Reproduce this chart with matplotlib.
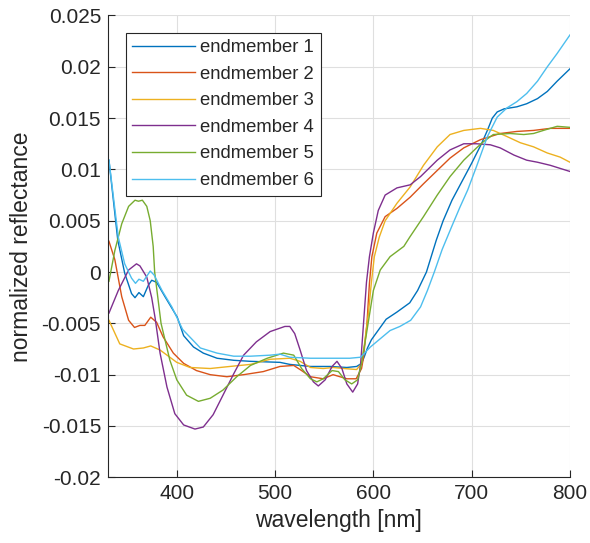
import numpy as np
import matplotlib
matplotlib.use("Agg")
import matplotlib.pyplot as plt

plt.rcParams['font.family'] = ['Liberation Sans', 'DejaVu Sans']

# endmember spectra (wavelength nm, normalized reflectance)
wl_1 = [331, 340, 347, 354, 357.5, 361.5, 366, 371, 374.5, 379.5, 388, 400.5, 407, 417, 427, 441,
        458, 475, 505, 515, 536, 556, 573, 583, 588, 591, 594, 598, 604, 613, 624, 637, 645, 654,
        664, 671, 680, 690, 700, 710, 716, 721, 726, 733, 746, 756, 767, 777, 787, 800]
em_1 = [0.0109, 0.0031, -0.0001, -0.0021, -0.0025, -0.0020, -0.0024, -0.0013, -0.0008, -0.0010,
        -0.0024, -0.0044, -0.0062, -0.0073, -0.0079, -0.0084, -0.0086, -0.0087, -0.0088, -0.0090,
        -0.0092, -0.0092, -0.0093, -0.0092, -0.0089, -0.0082, -0.0074, -0.0066, -0.0058, -0.0046,
        -0.0039, -0.0030, -0.0018, 0.0000, 0.0031, 0.0050, 0.0070, 0.0088, 0.0106, 0.0125, 0.0138,
        0.0150, 0.0156, 0.0159, 0.0161, 0.0164, 0.0169, 0.0176, 0.0186, 0.0198]

wl_2 = [331, 337, 344, 351, 357, 362.5, 367.5, 373.5, 379.5, 386, 396.5, 407, 420, 434, 451, 468,
        488, 505, 519, 527, 536, 549, 559, 573, 582.5, 588, 590, 593.5, 596, 598.5, 603.5, 612,
        624, 637.5, 651, 665, 678, 692, 709, 729, 746, 763, 780, 800]
em_2 = [0.0030, 0.0012, -0.0024, -0.0047, -0.0054, -0.0052, -0.0052, -0.0044, -0.0049, -0.0063,
        -0.0079, -0.0089, -0.0096, -0.0100, -0.0102, -0.0100, -0.0097, -0.0092, -0.0091, -0.0096,
        -0.0102, -0.0104, -0.0100, -0.0104, -0.0104, -0.0094, -0.0083, -0.0050, -0.0011, 0.0015,
        0.0038, 0.0054, 0.0062, 0.0073, 0.0086, 0.0099, 0.0111, 0.0121, 0.0129, 0.0135, 0.0137,
        0.0138, 0.0140, 0.0140]

wl_3 = [331, 342, 356, 366, 373.5, 383, 400, 413.5, 434, 454, 475, 495, 515, 525.5, 536, 549,
        559, 570, 583, 588, 591, 595, 598, 601, 606, 612, 624, 637.5, 651, 665, 678, 692, 709,
        722, 736, 749.5, 763, 777, 790, 800]
em_3 = [-0.0047, -0.0070, -0.0075, -0.0074, -0.0072, -0.0076, -0.0088, -0.0093, -0.0094, -0.0092,
        -0.0090, -0.0085, -0.0084, -0.0087, -0.0093, -0.0094, -0.0093, -0.0094, -0.0095, -0.0089,
        -0.0070, -0.0040, -0.0010, 0.0015, 0.0034, 0.0050, 0.0067, 0.0083, 0.0104, 0.0122, 0.0134,
        0.0138, 0.0140, 0.0138, 0.0132, 0.0126, 0.0122, 0.0116, 0.0112, 0.0107]

wl_4 = [331, 340.5, 351, 359, 362.5, 369.5, 374.5, 378, 383, 390, 398, 407, 418.5, 427, 437, 447,
        458, 468, 481, 495, 510, 515, 520, 525.5, 532, 539, 544, 551, 558, 563, 568, 573, 579, 584,
        587, 590, 593, 596, 600, 605, 612, 624, 637.5, 648, 665, 678, 692, 705, 719, 729, 743, 756,
        767, 780, 800]
em_4 = [-0.0040, -0.0018, 0.0002, 0.0008, 0.0006, -0.0005, -0.0025, -0.0045, -0.0079, -0.0112,
        -0.0138, -0.0149, -0.0153, -0.0151, -0.0139, -0.0120, -0.0099, -0.0081, -0.0068, -0.0058,
        -0.0053, -0.0053, -0.0060, -0.0076, -0.0096, -0.0107, -0.0111, -0.0105, -0.0092, -0.0087,
        -0.0094, -0.0109, -0.0117, -0.0109, -0.0090, -0.0050, -0.0010, 0.0015, 0.0038, 0.0060,
        0.0075, 0.0082, 0.0085, 0.0093, 0.0109, 0.0119, 0.0125, 0.0125, 0.0124, 0.0121, 0.0114,
        0.0109, 0.0107, 0.0104, 0.0098]

wl_5 = [331, 337, 344, 351, 357.5, 361, 365, 369.5, 373, 376, 377.5, 381, 384, 393, 400, 410, 422,
        434, 447, 461, 475, 492, 508.5, 519, 527, 536, 542.5, 549, 558, 564.5, 571, 578, 584, 588,
        593, 596, 600, 607, 617, 631, 637, 651, 665, 678, 692, 705, 712, 722, 739, 753, 763, 773,
        787, 800]
em_5 = [-0.0009, 0.0021, 0.0047, 0.0064, 0.0070, 0.0069, 0.0070, 0.0064, 0.0050, 0.0025, 0.0000,
        -0.0027, -0.0050, -0.0086, -0.0105, -0.0120, -0.0126, -0.0123, -0.0115, -0.0102, -0.0091,
        -0.0084, -0.0079, -0.0081, -0.0094, -0.0104, -0.0107, -0.0104, -0.0096, -0.0097, -0.0105,
        -0.0109, -0.0105, -0.0089, -0.0060, -0.0042, -0.0018, 0.0002, 0.0015, 0.0025, 0.0034,
        0.0054, 0.0075, 0.0093, 0.0109, 0.0121, 0.0127, 0.0134, 0.0135, 0.0134, 0.0135, 0.0138,
        0.0142, 0.0141]

wl_6 = [331, 340.5, 347, 354, 358, 361.5, 366, 373, 377, 385, 395, 406, 424, 441, 458, 475, 495,
        505, 515, 536, 556, 576, 587, 597, 607, 617, 627, 638, 648, 655, 662, 670, 680, 688, 696,
        705, 716, 726, 736, 746, 756, 767, 777, 787, 800]
em_6 = [0.0109, 0.0034, 0.0008, -0.0006, -0.0011, -0.0007, -0.0009, 0.0001, -0.0003, -0.0018,
        -0.0034, -0.0056, -0.0074, -0.0079, -0.0082, -0.0082, -0.0081, -0.0080, -0.0083, -0.0084,
        -0.0084, -0.0084, -0.0083, -0.0073, -0.0065, -0.0057, -0.0053, -0.0047, -0.0034, -0.0018,
        0.0000, 0.0022, 0.0045, 0.0063, 0.0080, 0.0103, 0.0132, 0.0151, 0.0160, 0.0166, 0.0174,
        0.0186, 0.0200, 0.0213, 0.0231]

labels = ['endmember 1', 'endmember 2', 'endmember 3', 'endmember 4', 'endmember 5', 'endmember 6']
colors = ['#0072BD', '#D95319', '#EDB120', '#7E2F8E', '#77AC30', '#4DBEEE']

fig = plt.figure(figsize=(5.9, 5.43), dpi=100)
ax = fig.add_axes([0.183, 0.121, 0.783, 0.8505])

series = [(wl_1, em_1), (wl_2, em_2), (wl_3, em_3), (wl_4, em_4), (wl_5, em_5), (wl_6, em_6)]
for (w, v), lab, c in zip(series, labels, colors):
    ax.plot(w, v, color=c, lw=1.0, label=lab)

ax.set_xlim(330, 800)
ax.set_ylim(-0.02, 0.025)
ax.set_xticks([400, 500, 600, 700, 800])
ax.set_yticks(np.arange(-0.02, 0.0251, 0.005))
ax.set_yticklabels(['-0.02', '-0.015', '-0.01', '-0.005', '0', '0.005', '0.01', '0.015', '0.02', '0.025'])

ax.grid(True, color='#dfdfdf', lw=0.8)
ax.set_axisbelow(True)
for s in ['top', 'right']:
    ax.spines[s].set_visible(False)
for s in ['left', 'bottom']:
    ax.spines[s].set_color('#262626')
    ax.spines[s].set_linewidth(0.8)
ax.tick_params(direction='in', length=5, width=0.8, colors='#262626', labelsize=15, pad=5)
for t in ax.get_xticklabels() + ax.get_yticklabels():
    t.set_color('#262626')

ax.set_xlabel('wavelength [nm]', fontsize=16.5, color='#262626', labelpad=4)
ax.set_ylabel('normalized reflectance', fontsize=16.5, color='#262626', labelpad=6)

leg = ax.legend(loc='upper left', bbox_to_anchor=(0.039, 0.963), borderaxespad=0,
                fontsize=13.3, handlelength=3.4, handletextpad=0.28, labelspacing=0.52,
                fancybox=False, framealpha=1, edgecolor='#262626', borderpad=0.35)
leg.get_frame().set_linewidth(0.8)
for t in leg.get_texts():
    t.set_color('#262626')

fig.savefig('out.png', dpi=100)
